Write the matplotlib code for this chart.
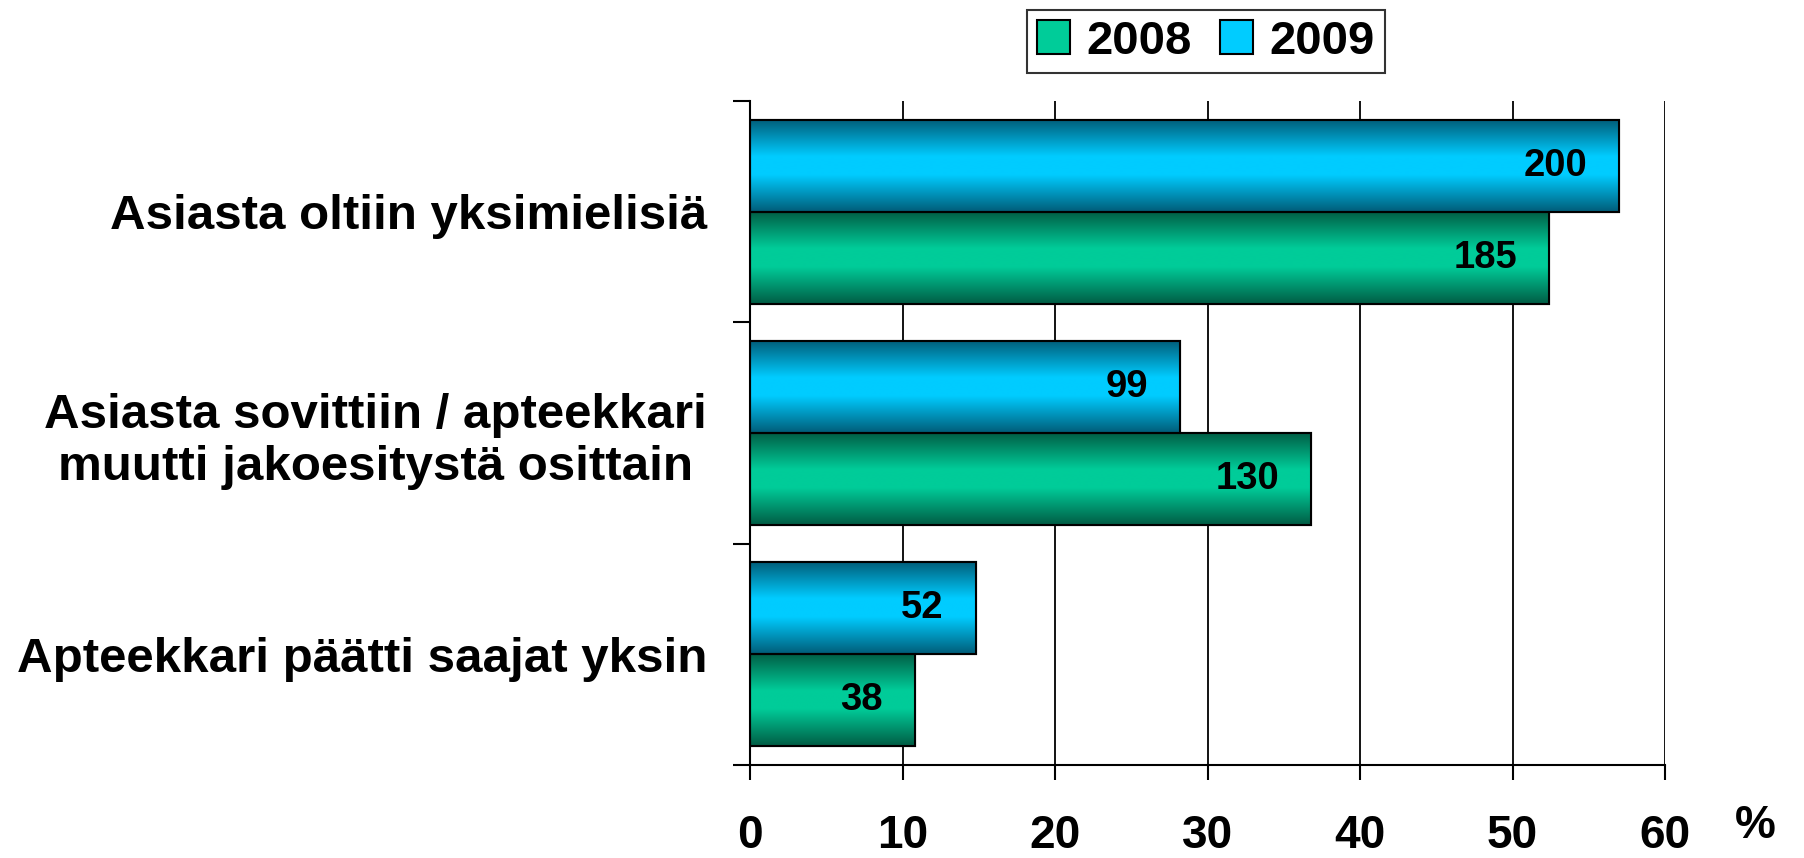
import numpy as np
import matplotlib
matplotlib.use("Agg")
import matplotlib.pyplot as plt
from matplotlib.colors import LinearSegmentedColormap

plt.rcParams['font.family'] = ['Liberation Sans', 'DejaVu Sans']
plt.rcParams['font.weight'] = 'bold'

categories = ["Asiasta oltiin yksimielisiä",
              "Asiasta sovittiin / apteekkari\nmuutti jakoesitystä osittain",
              "Apteekkari päätti saajat yksin"]
years = ["2008", "2009"]
pct_2008 = [52.4, 36.8, 10.8]
pct_2009 = [57.0, 28.2, 14.8]
n_2008 = [185, 130, 38]
n_2009 = [200, 99, 52]
x_ticks = [0, 10, 20, 30, 40, 50, 60]

green = ("#005c44", "#00cc99")
blue = ("#005c78", "#00ccff")


def shade(ax, bars, dark, light):
    # vertical gradient: dark edges, bright middle
    cmap = LinearSegmentedColormap.from_list("g", [(0, dark), (0.4, light), (0.6, light), (1, dark)])
    img = np.linspace(0, 1, 256).reshape(-1, 1)
    for p in bars:
        x0, y0 = p.get_x(), p.get_y()
        im = ax.imshow(img, cmap=cmap, aspect='auto', interpolation='bilinear',
                       extent=[x0, x0 + p.get_width(), y0 + p.get_height(), y0],
                       zorder=2.5)
        im.set_clip_path(p)


fig = plt.figure(figsize=(18.04, 8.58), dpi=100)
ax = fig.add_axes([750 / 1804, 93 / 858, 915 / 1804, 664 / 858])

y = np.arange(len(categories))
h = 0.416
b09 = ax.barh(y - h / 2, pct_2009, height=h, color=blue[1], edgecolor='black', linewidth=1.5, zorder=2, label=years[1])
b08 = ax.barh(y + h / 2, pct_2008, height=h, color=green[1], edgecolor='black', linewidth=1.5, zorder=2, label=years[0])
shade(ax, b09, *blue)
shade(ax, b08, *green)
# redraw outlines above the gradient
for p in list(b09) + list(b08):
    ax.add_patch(plt.Rectangle((p.get_x(), p.get_y()), p.get_width(), p.get_height(),
                               fill=False, edgecolor='black', linewidth=1.5, zorder=3))

for vals, counts, off in [(pct_2009, n_2009, -h / 2), (pct_2008, n_2008, h / 2)]:
    for yi, v, c in zip(y, vals, counts):
        ax.annotate(str(c), xy=(v, yi + off), xytext=(-23, 0), textcoords='offset points',
                    ha='right', va='center', fontsize=27.5, fontweight='bold', zorder=4)

ax.set_xlim(0, 60)
ax.set_ylim(2.5, -0.5)
ax.set_xticks(x_ticks)
ax.set_xticklabels([str(t) for t in x_ticks], fontsize=33, fontweight='bold')
ax.tick_params(axis='x', length=11, width=1.5, pad=24, direction='out')
ax.set_yticks(y)
ax.set_yticklabels(categories, fontsize=35.5, fontweight='bold', multialignment='center')
ax.set_yticks([-0.5, 0.5, 1.5, 2.5], minor=True)
ax.tick_params(axis='y', which='major', length=0, pad=31)
ax.tick_params(axis='y', which='minor', length=12, width=1.5)
ax.grid(axis='x', color='black', linewidth=1.3, zorder=0)
ax.set_axisbelow(True)
for s in ['top', 'right']:
    ax.spines[s].set_visible(False)
for s in ['left', 'bottom']:
    ax.spines[s].set_linewidth(1.5)

fig.text(1755 / 1804, 1 - 826 / 858, "%", fontsize=33, fontweight='bold', ha='center', va='center')

leg = fig.legend(handles=[b08, b09], labels=years, loc='center', bbox_to_anchor=(1206 / 1804, 1 - 41.5 / 858),
                 ncol=2, prop={'weight': 'bold', 'size': 34}, frameon=True, fancybox=False,
                 edgecolor='black', handlelength=0.7, handleheight=0.7, handletextpad=0.35,
                 columnspacing=0.6, borderpad=0.2, borderaxespad=0)
leg.get_frame().set_linewidth(1.5)

fig.savefig("out.png", dpi=100)
